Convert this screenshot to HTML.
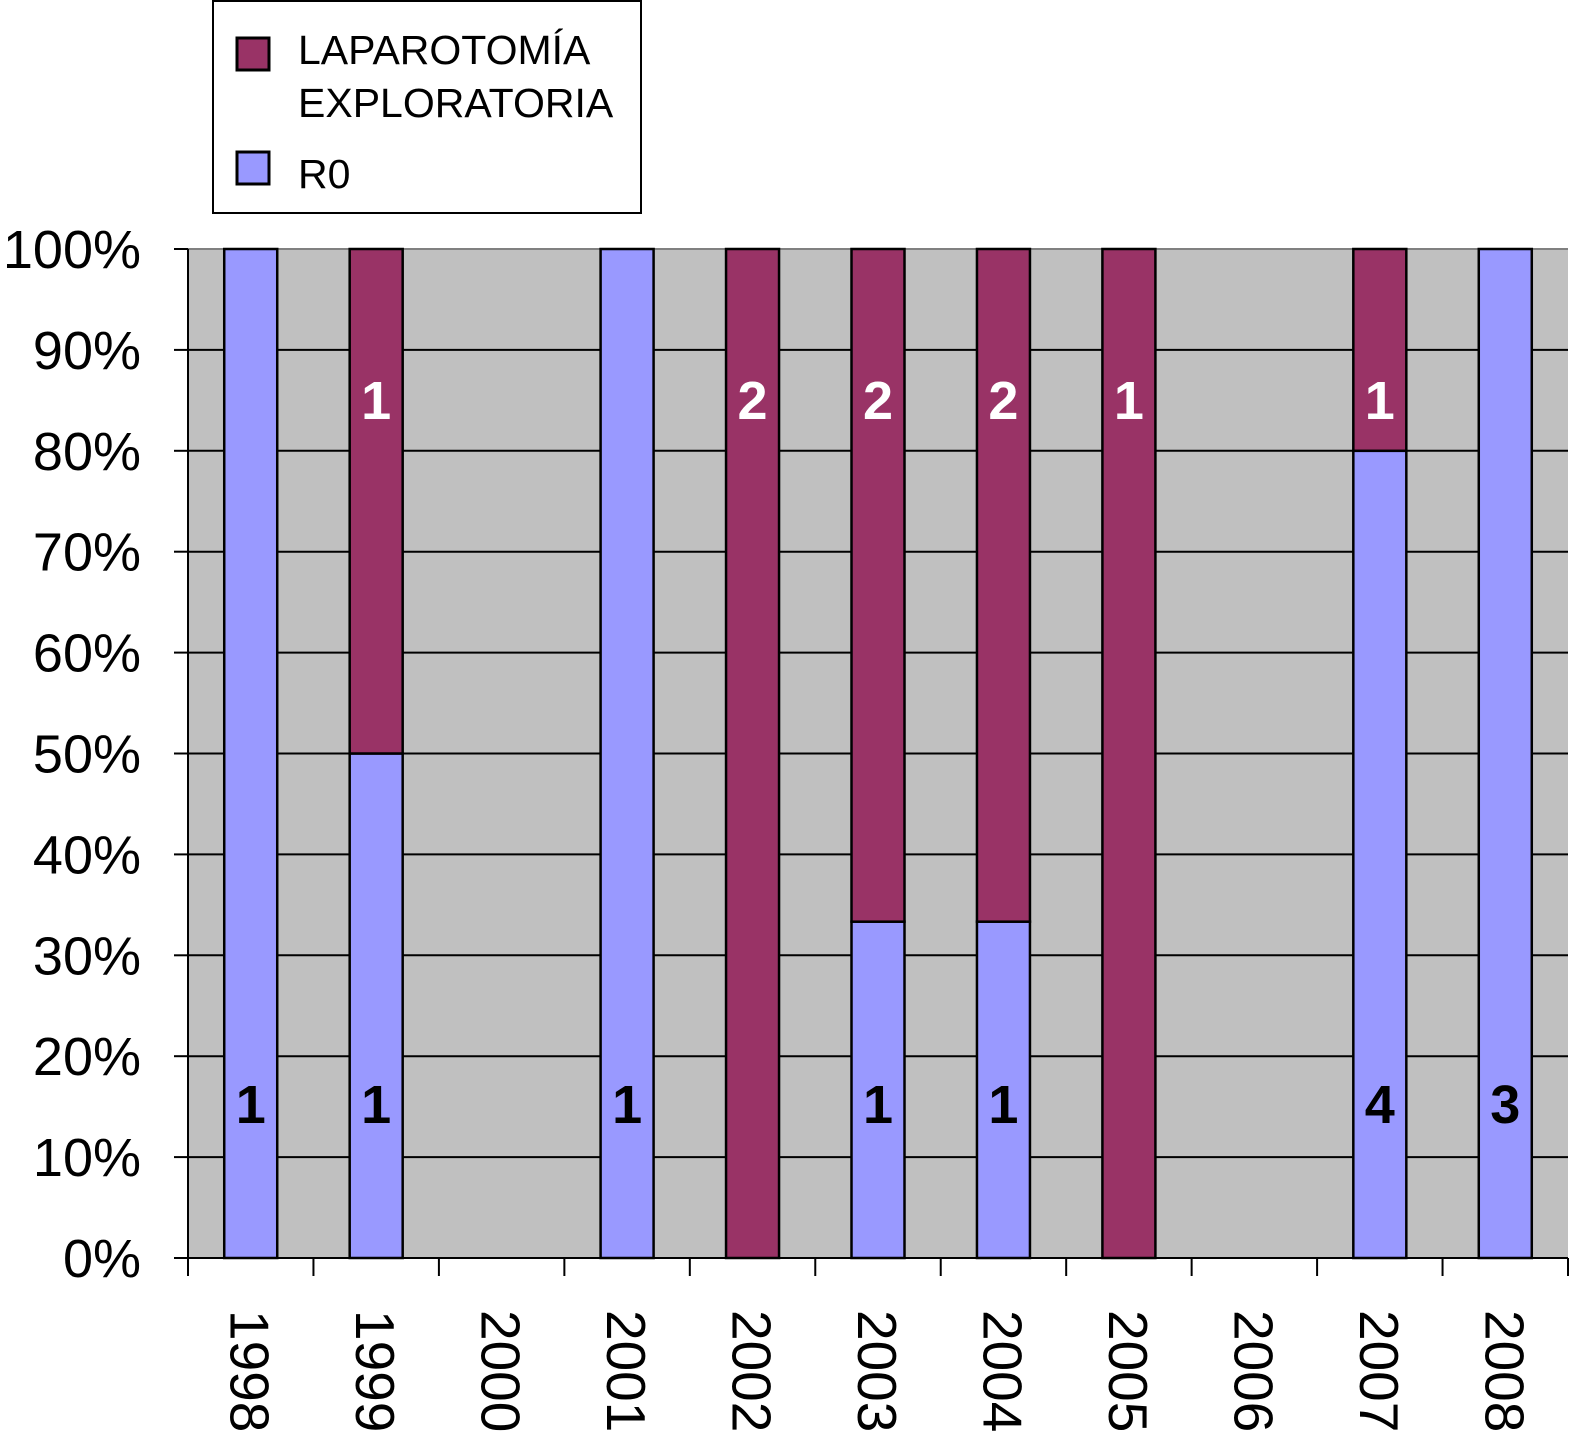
<!DOCTYPE html>
<html><head><meta charset="utf-8"><style>
body{margin:0;background:#fff;}
svg{display:block;font-family:"Liberation Sans",Arial,sans-serif;}
</style></head><body>
<svg id="chart" width="1583" height="1444" viewBox="0 0 1583 1444">
<rect x="188" y="249" width="1380" height="1009" fill="#c0c0c0"/>
<g id="grid"></g><g id="bars"></g><g id="axes"></g>
<g>
<rect x="213" y="1" width="428" height="212" fill="#fff" stroke="#000" stroke-width="2"/>
<rect x="237" y="38" width="32" height="32" fill="#993366" stroke="#000" stroke-width="3"/>
<text x="298" y="64" font-size="41">LAPAROTOMÍA</text>
<text x="298" y="117" font-size="41">EXPLORATORIA</text>
<rect x="237" y="152" width="32" height="32" fill="#9999ff" stroke="#000" stroke-width="3"/>
<text x="298" y="188" font-size="41">R0</text>
</g>
</svg>
<script>
const categories=["1998","1999","2000","2001","2002","2003","2004","2005","2006","2007","2008"];
const r0Counts=[1,1,0,1,0,1,1,0,0,4,3];
const lapCounts=[0,1,0,0,2,2,2,1,0,1,0];
const yTicks=[0,10,20,30,40,50,60,70,80,90,100];
const NS="http://www.w3.org/2000/svg";
const X0=188,X1=1568,Y0=1258,Y1=249;
const step=(X1-X0)/categories.length;
const xC=i=>X0+step*(i+0.5);
const y=p=>Y0-(Y0-Y1)*p/100;
function mk(t,a,parent){const e=document.createElementNS(NS,t);for(const k in a)e.setAttribute(k,a[k]);parent.appendChild(e);return e;}
const grid=document.getElementById('grid'),bars=document.getElementById('bars'),axes=document.getElementById('axes');
yTicks.forEach(v=>{
  if(v>0){const l=mk('line',{x1:X0,x2:X1,y1:y(v),y2:y(v),stroke:v===100?'#808080':'#000','stroke-width':2},grid);
  
  }
  const tk=mk('line',{x1:X0-14,x2:X0,y1:y(v),y2:y(v),stroke:'#000','stroke-width':2},axes);
  
  
  const t=mk('text',{x:141,y:y(v)+19,'font-size':54,'text-anchor':'end'},axes);t.textContent=v+'%';
  
  
});
const bw=53;
categories.forEach((c,i)=>{
  const tot=r0Counts[i]+lapCounts[i];const cx=xC(i);
  if(tot>0){
    const pr=r0Counts[i]/tot*100;
    if(r0Counts[i]>0){const r=mk('rect',{x:cx-bw/2,y:y(pr),width:bw,height:y(0)-y(pr),fill:'#9999ff',stroke:'#000','stroke-width':2.5},bars);
      
      
      const t=mk('text',{x:cx,y:1123,'font-size':54,'font-weight':'bold','text-anchor':'middle'},bars);t.textContent=r0Counts[i];
      
      }
    if(lapCounts[i]>0){const r=mk('rect',{x:cx-bw/2,y:y(100),width:bw,height:y(pr)-y(100),fill:'#993366',stroke:'#000','stroke-width':2.5},bars);
      
      
      const t=mk('text',{x:cx,y:419,'font-size':54,'font-weight':'bold','fill':'#fff','text-anchor':'middle'},bars);t.textContent=lapCounts[i];
      
      }
  }
  const t=mk('text',{transform:`translate(${cx-20},1310) rotate(90)`,'font-size':55},axes);t.textContent=c;
  
  
});
for(let i=0;i<=categories.length;i++){const x=X0+step*i;
  const tk=mk('line',{x1:x,x2:x,y1:Y0,y2:Y0+18,stroke:'#000','stroke-width':2},axes);
  
  }
const ya=mk('line',{x1:X0,x2:X0,y1:Y1,y2:Y0,stroke:'#000','stroke-width':2},axes);


const xa=mk('line',{x1:X0,x2:X1,y1:Y0,y2:Y0,stroke:'#000','stroke-width':2},axes);


</script>
</body></html>
